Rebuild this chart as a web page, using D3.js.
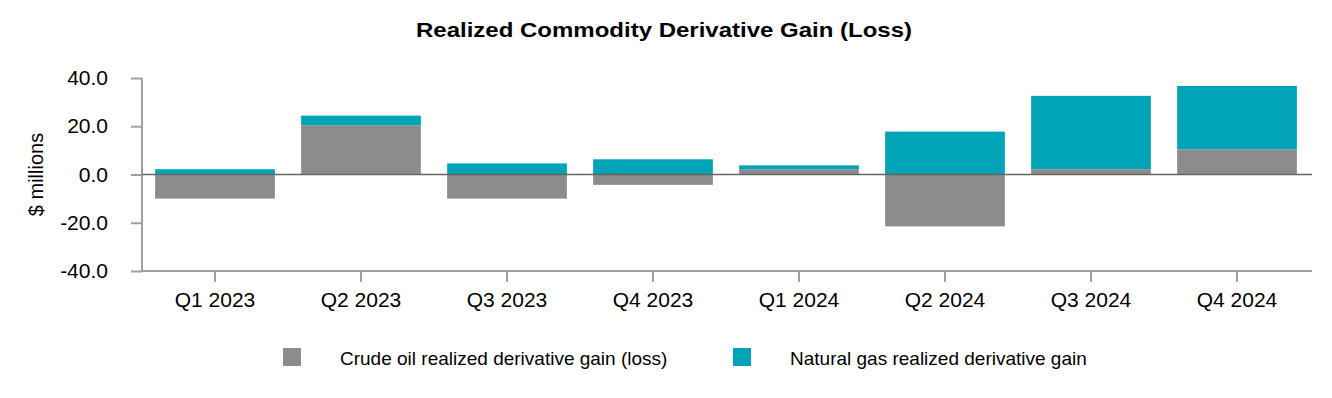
<!DOCTYPE html>
<html>
<head>
<meta charset="utf-8">
<script src="https://cdn.jsdelivr.net/npm/d3@7"></script>
<style>
  body { margin: 0; background: #fff; }
  text { font-family: "Liberation Sans", Arial, sans-serif; fill: #000; }
</style>
</head>
<body>
<script>
// chart data
var quarters = ["Q1 2023", "Q2 2023", "Q3 2023", "Q4 2023", "Q1 2024", "Q2 2024", "Q3 2024", "Q4 2024"];
var crudeOil = [-10.0, 20.4, -10.0, -4.3, 2.2, -21.5, 2.2, 10.4];
var naturalGas = [2.2, 4.0, 4.6, 6.3, 1.6, 17.8, 30.4, 26.3];
var yTicks = [-40, -20, 0, 20, 40];
var seriesNames = ["Crude oil realized derivative gain (loss)", "Natural gas realized derivative gain"];
var colors = ["#8c8c8c", "#00a4b6"];

var width = 1332, height = 398;
var margin = {top: 78, right: 20, bottom: 127, left: 142};

var svg = d3.select("body").append("svg")
    .attr("width", width)
    .attr("height", height);

var rows = quarters.map(function(q, i) {
  return {q: q, oil: crudeOil[i], gas: naturalGas[i]};
});

var x = d3.scaleBand()
    .domain(quarters)
    .range([margin.left, 1310])
    .paddingInner(0.18)
    .paddingOuter(0.09);

var y = d3.scaleLinear()
    .domain([-40, 40])
    .range([height - margin.bottom, margin.top]);

var stack = d3.stack()
    .keys(["oil", "gas"])
    .offset(d3.stackOffsetDiverging);

var layers = stack(rows);

svg.selectAll("g.layer")
  .data(layers)
  .enter().append("g")
    .attr("class", "layer")
    .attr("fill", function(d, i) { return colors[i]; })
  .selectAll("rect")
  .data(function(d) { return d; })
  .enter().append("rect")
    .attr("x", function(d) { return x(d.data.q); })
    .attr("width", x.bandwidth())
    .attr("y", function(d) { return y(Math.max(d[0], d[1])); })
    .attr("height", function(d) { return Math.abs(y(d[0]) - y(d[1])); });

// y axis
var yAxis = svg.append("g")
    .attr("transform", "translate(" + margin.left + ",0)")
    .call(d3.axisLeft(y).tickValues(yTicks).tickSize(11).tickPadding(23)
      .tickFormat(function(d) { return d3.format(".1f")(d); }));
yAxis.select(".domain").attr("stroke", "#a0a0a0").attr("stroke-width", 2)
    .attr("d", "M0," + y(40) + "V" + y(-40));
yAxis.selectAll(".tick line").attr("stroke", "#a0a0a0").attr("stroke-width", 2);
yAxis.selectAll(".tick text").style("font-size", "21px").attr("fill", "#000")
    .text(function(d) { return d < 0 ? "-" + d3.format(".1f")(-d) : d3.format(".1f")(d); });

// x axis
var xAxis = svg.append("g")
    .attr("transform", "translate(0," + y(-40) + ")")
    .call(d3.axisBottom(x).tickSize(11).tickPadding(10));
xAxis.select(".domain").attr("stroke", "#a0a0a0").attr("stroke-width", 2)
    .attr("d", "M" + margin.left + ",0H1312");
xAxis.selectAll(".tick line").attr("stroke", "#a0a0a0").attr("stroke-width", 2);
xAxis.selectAll(".tick text").style("font-size", "21px").attr("fill", "#000");

// zero line
svg.append("line")
    .attr("x1", margin.left).attr("x2", 1312)
    .attr("y1", y(0)).attr("y2", y(0))
    .attr("stroke", "#666").attr("stroke-width", 1.5);

// title
svg.append("text")
    .attr("x", 664).attr("y", 37)
    .attr("text-anchor", "middle")
    .attr("textLength", 496)
    .attr("lengthAdjust", "spacingAndGlyphs")
    .style("font-size", "21px")
    .style("font-weight", "bold")
    .text("Realized Commodity Derivative Gain (Loss)");

// y label
svg.append("text")
    .attr("transform", "translate(43," + y(0) + ") rotate(-90)")
    .attr("text-anchor", "middle")
    .style("font-size", "20px")
    .text("$ millions");

// legend
var legendX = [283, 733];
var legend = svg.selectAll("g.legend")
  .data(seriesNames)
  .enter().append("g")
    .attr("class", "legend")
    .attr("transform", function(d, i) { return "translate(" + legendX[i] + ",348)"; });
legend.append("rect")
    .attr("width", 18).attr("height", 18)
    .attr("fill", function(d, i) { return colors[i]; });
legend.append("text")
    .attr("x", 57).attr("y", 17)
    .style("font-size", "19px")
    .text(function(d) { return d; });
</script>
</body>
</html>
